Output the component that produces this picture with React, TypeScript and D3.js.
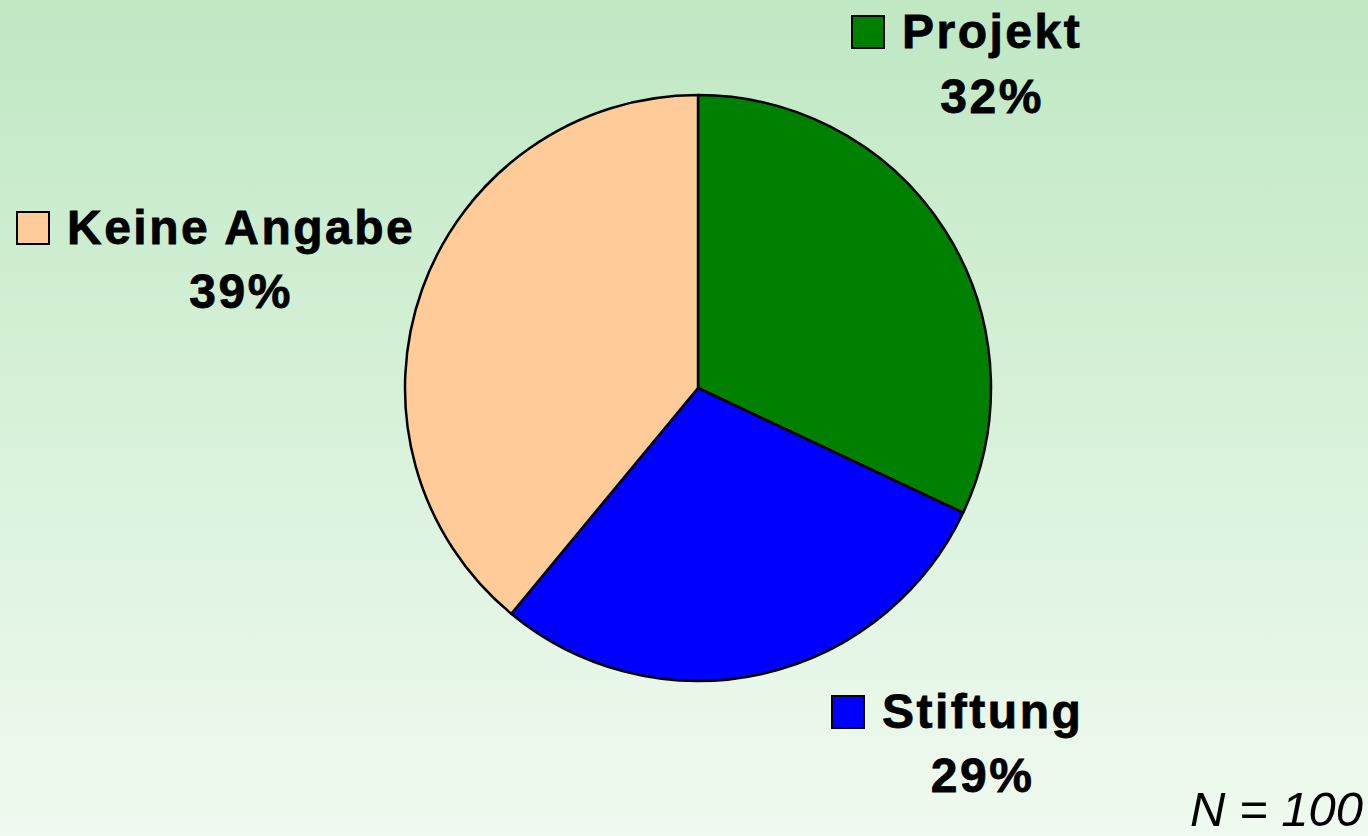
import * as d3 from "d3";
import { useEffect, useRef } from "react";

const categories = ["Projekt", "Stiftung", "Keine Angabe"];
const shares = [32, 29, 39];
const colors = ["#008000", "#0000ff", "#ffcc99"];
const sampleNote = "N = 100";

// label placement (legend square top-left + text baseline), per slice
const labelLayout = [
  { sx: 852, sy: 16, tx: 902, ty: 48, py: 113 },
  { sx: 832, sy: 696, tx: 882, ty: 728, py: 792 },
  { sx: 17, sy: 212, tx: 67, ty: 244, py: 308 },
];

export default function App() {
  const ref = useRef<SVGSVGElement | null>(null);

  useEffect(() => {
    if (!ref.current) return;
    const width = 1368;
    const height = 836;
    const cx = 698;
    const cy = 388;
    const r = 293;

    const svg = d3.select(ref.current);
    svg.selectAll("*").remove();

    const defs = svg.append("defs");
    const grad = defs
      .append("linearGradient")
      .attr("id", "bg")
      .attr("x1", 0)
      .attr("y1", 0)
      .attr("x2", 0)
      .attr("y2", 1);
    grad.append("stop").attr("offset", "0%").attr("stop-color", "#bfe8c3");
    grad.append("stop").attr("offset", "100%").attr("stop-color", "#f0faf0");

    svg.append("rect").attr("width", width).attr("height", height).attr("fill", "url(#bg)");

    const pie = d3
      .pie<number>()
      .sort(null)
      .value((d) => d);
    const arc = d3.arc<d3.PieArcDatum<number>>().innerRadius(0).outerRadius(r);

    const g = svg.append("g").attr("transform", `translate(${cx},${cy})`);
    g.selectAll("path")
      .data(pie(shares))
      .join("path")
      .attr("d", arc)
      .attr("fill", (_, i) => colors[i])
      .attr("stroke", "#000")
      .attr("stroke-width", 2.5)
      .attr("stroke-linejoin", "round");

    const font = "'Liberation Sans', Arial, sans-serif";
    const labelStyle = (sel: d3.Selection<SVGTextElement, unknown, null, undefined>) =>
      sel
        .style("font-family", font)
        .style("font-weight", "bold")
        .style("font-size", "48px")
        .style("letter-spacing", "2.5px")
        .attr("fill", "#000")
        .attr("stroke", "#000")
        .attr("stroke-width", 0.8);

    categories.forEach((name, i) => {
      const L = labelLayout[i];
      svg
        .append("rect")
        .attr("x", L.sx)
        .attr("y", L.sy)
        .attr("width", 32)
        .attr("height", 32)
        .attr("fill", colors[i])
        .attr("stroke", "#000")
        .attr("stroke-width", 2);
      const t = svg.append("text").attr("x", L.tx).attr("y", L.ty).text(name).call(labelStyle);
      const w = (t.node() as SVGTextElement).getComputedTextLength();
      svg
        .append("text")
        .attr("x", L.tx + w / 2)
        .attr("y", L.py)
        .attr("text-anchor", "middle")
        .text(`${shares[i]}%`)
        .call(labelStyle);
    });

    svg
      .append("text")
      .attr("x", 1363)
      .attr("y", 826)
      .attr("text-anchor", "end")
      .text(sampleNote)
      .style("font-family", font)
      .style("font-style", "italic")
      .style("font-size", "49px")
      .attr("fill", "#000");
  }, []);

  return (
    <svg
      ref={ref}
      width={1368}
      height={836}
      style={{ position: "fixed", left: 0, top: 0, display: "block" }}
      role="img"
      aria-label="Pie chart: Projekt, Stiftung, Keine Angabe"
    />
  );
}
